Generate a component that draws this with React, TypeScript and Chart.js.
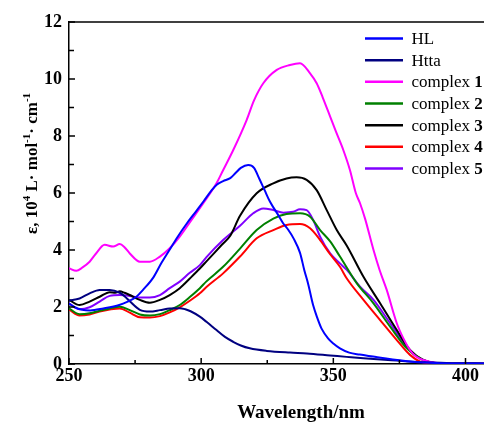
import React, { useEffect, useRef } from "react";
import { Chart, registerables } from "chart.js";

Chart.register(...registerables);

const SERIES_LABELS = ["HL", "Htta", "complex 1", "complex 2", "complex 3", "complex 4", "complex 5"];
const SERIES_COLORS = ["#0000FF", "#000080", "#FF00FF", "#008000", "#000000", "#FF0000", "#8000FF"];

const HL_X = [250, 252, 255, 258, 263, 269, 272, 275.5, 278, 282, 285, 288, 291, 294.5, 298, 301, 304, 306, 308.3, 311, 313, 315, 317.8, 320, 322, 324, 326, 329, 331, 333, 335, 337.4, 339, 340.5, 342.4, 344, 345.5, 348, 350, 352.5, 356, 360, 365, 370, 375, 380, 385, 390, 400, 407];
const HL_Y = [2.12, 2.0, 1.9, 1.88, 1.95, 2.07, 2.18, 2.36, 2.6, 3.05, 3.55, 4.0, 4.45, 4.92, 5.35, 5.72, 6.1, 6.3, 6.42, 6.52, 6.7, 6.88, 6.98, 6.88, 6.5, 6.1, 5.7, 5.25, 4.94, 4.7, 4.4, 3.9, 3.3, 2.8, 2.05, 1.6, 1.25, 0.9, 0.72, 0.55, 0.4, 0.33, 0.26, 0.19, 0.13, 0.08, 0.05, 0.03, 0.02, 0.02];

const HTTA_X = [250, 254, 257.8, 261.6, 265.4, 269.2, 271, 273, 276.8, 280.6, 284.4, 288.1, 291.9, 294, 296, 299.5, 302, 305.8, 309, 312.1, 315, 318.4, 324.8, 333.6, 340, 348.8, 355, 361.4, 368, 374, 380, 386.7, 395, 407];
const HTTA_Y = [2.22, 2.3, 2.48, 2.6, 2.6, 2.5, 2.38, 2.2, 1.9, 1.84, 1.89, 1.95, 1.96, 1.92, 1.85, 1.66, 1.48, 1.19, 0.95, 0.78, 0.65, 0.55, 0.46, 0.4, 0.37, 0.3, 0.25, 0.2, 0.16, 0.12, 0.08, 0.05, 0.03, 0.02];

const C1_X = [250, 252.8, 255, 257.8, 260, 263.5, 266.7, 269.2, 271, 273, 276.8, 280.6, 284.4, 288.1, 291.9, 295.7, 300.8, 305.8, 308.3, 312.1, 317.2, 320, 323.5, 328.6, 333.6, 337.4, 341.2, 343.7, 346, 348.8, 351, 353.8, 356.3, 358.5, 360.1, 362, 365.2, 367.5, 370.2, 374, 376.5, 379, 381, 384, 390, 400, 407];
const C1_Y = [3.36, 3.27, 3.38, 3.59, 3.85, 4.18, 4.12, 4.21, 4.1, 3.88, 3.59, 3.59, 3.77, 4.06, 4.47, 4.97, 5.64, 6.34, 6.8, 7.5, 8.56, 9.25, 9.85, 10.32, 10.49, 10.55, 10.2, 9.85, 9.35, 8.68, 8.15, 7.5, 6.8, 6.0, 5.64, 5.1, 4.0, 3.3, 2.6, 1.43, 0.9, 0.49, 0.28, 0.14, 0.03, 0.01, 0.01];

const C2_X = [250, 254, 257.8, 261.6, 265.4, 269.2, 273, 276.8, 280.6, 284.4, 288.1, 291.9, 295.7, 299.5, 302, 308.3, 314.7, 321, 327.3, 332.3, 337.4, 341.2, 345, 348.8, 352.5, 358.9, 365.2, 371.5, 377.8, 382.8, 389, 400, 407];
const C2_Y = [1.95, 1.75, 1.78, 1.87, 1.95, 2.01, 1.89, 1.74, 1.7, 1.75, 1.89, 2.07, 2.35, 2.66, 2.9, 3.41, 4.05, 4.7, 5.1, 5.26, 5.29, 5.17, 4.7, 4.3, 3.77, 2.83, 2.13, 1.31, 0.55, 0.2, 0.03, 0.01, 0.01];

const C3_X = [250, 254, 257.8, 261.6, 265.4, 267.5, 269.2, 271, 273, 276.8, 280.6, 284.4, 288.1, 291.9, 295.7, 299.5, 302, 305, 308, 311, 314.7, 321, 327.3, 332.3, 336.1, 339.9, 343.7, 347.5, 351.3, 355.1, 361.4, 367.7, 374, 379, 384, 389, 400, 407];
const C3_Y = [2.25, 2.07, 2.19, 2.36, 2.52, 2.5, 2.55, 2.5, 2.42, 2.25, 2.15, 2.25, 2.42, 2.66, 3.0, 3.35, 3.6, 3.9, 4.2, 4.5, 5.2, 5.99, 6.34, 6.51, 6.55, 6.46, 6.1, 5.4, 4.7, 4.15, 3.06, 2.13, 1.19, 0.49, 0.14, 0.03, 0.01, 0.01];

const C4_X = [250, 254, 257.8, 261.6, 265.4, 269.2, 273, 276.8, 280.6, 284.4, 288.1, 291.9, 295.7, 299.5, 302, 308.3, 314.7, 321, 327.3, 332.3, 337.4, 341.2, 345, 348.8, 352.5, 355.1, 361.4, 367.7, 374, 379, 384, 390, 400, 407];
const C4_Y = [1.91, 1.7, 1.74, 1.84, 1.91, 1.95, 1.8, 1.64, 1.63, 1.68, 1.81, 1.99, 2.22, 2.48, 2.7, 3.18, 3.77, 4.41, 4.7, 4.88, 4.91, 4.76, 4.35, 3.85, 3.41, 3.0, 2.25, 1.54, 0.84, 0.32, 0.05, 0.02, 0.01, 0.01];

const C5_X = [250, 254, 257.8, 261.6, 265.4, 269.2, 273, 276.8, 280.6, 284.4, 288.1, 291.9, 295.7, 299.5, 302, 308.3, 314.7, 319.7, 323.5, 327.3, 331.1, 334.8, 337.4, 339.9, 342.4, 345, 348.8, 352.5, 355.1, 360.1, 365.2, 371.5, 377.8, 382.8, 389, 400, 407];
const C5_Y = [2.13, 1.92, 1.99, 2.19, 2.39, 2.42, 2.39, 2.33, 2.33, 2.42, 2.66, 2.89, 3.2, 3.47, 3.75, 4.35, 4.85, 5.29, 5.46, 5.4, 5.31, 5.34, 5.43, 5.4, 5.05, 4.47, 3.88, 3.53, 3.3, 2.71, 2.25, 1.43, 0.61, 0.2, 0.03, 0.01, 0.01];

const SERIES_X = [HL_X, HTTA_X, C1_X, C2_X, C3_X, C4_X, C5_X];
const SERIES_Y = [HL_Y, HTTA_Y, C1_Y, C2_Y, C3_Y, C4_Y, C5_Y];

const X_MIN = 250;
const X_MAX = 407;
const X_TICKS = [250, 275, 300, 325, 350, 375, 400];
const Y_MIN = 0;
const Y_MAX = 12;
const Y_TICKS = [0, 1, 2, 3, 4, 5, 6, 7, 8, 9, 10, 11, 12];

const X_TITLE = "Wavelength/nm";
const FONT = '"Liberation Serif", "Times New Roman", serif';

const decorPlugin = {
  id: "decor",
  afterDraw(chart: any) {
    const { ctx, chartArea, scales } = chart;
    const { left, right, top, bottom } = chartArea;
    const xs = scales.x;
    const ys = scales.y;
    ctx.save();
    ctx.strokeStyle = "#000";
    ctx.lineWidth = 1.5;
    ctx.beginPath();
    ctx.moveTo(left - 0.75, top);
    ctx.lineTo(right, top);
    ctx.stroke();
    ctx.beginPath();
    for (const v of X_TICKS) {
      const px = xs.getPixelForValue(v);
      const len = v % 50 === 0 ? 6 : 4;
      ctx.moveTo(px, bottom);
      ctx.lineTo(px, bottom - len);
    }
    for (const v of Y_TICKS) {
      const py = ys.getPixelForValue(v);
      const len = v % 2 === 0 ? 6 : 5;
      ctx.moveTo(left, py);
      ctx.lineTo(left + len, py);
    }
    ctx.stroke();

    // x title
    ctx.fillStyle = "#000";
    ctx.font = `bold 19px ${FONT}`;
    ctx.textAlign = "center";
    ctx.textBaseline = "alphabetic";
    ctx.fillText(X_TITLE, 301, 418);

    // y title with superscripts
    const parts: [string, boolean][] = [
      ["\u03b5, 10", false],
      ["4", true],
      [" L\u00b7 mol", false],
      ["-1", true],
      ["\u00b7 cm", false],
      ["-1", true],
    ];
    const mainFont = `bold 17px ${FONT}`;
    const supFont = `bold 11px ${FONT}`;
    let total = 0;
    for (const [t, sup] of parts) {
      ctx.font = sup ? supFont : mainFont;
      total += ctx.measureText(t).width;
    }
    ctx.save();
    ctx.translate(37, 163.5 + total / 2);
    ctx.rotate(-Math.PI / 2);
    ctx.textAlign = "left";
    let cx = 0;
    for (const [t, sup] of parts) {
      ctx.font = sup ? supFont : mainFont;
      ctx.fillText(t, cx, sup ? -7 : 0);
      cx += ctx.measureText(t).width;
    }
    ctx.restore();

    // legend
    chart.data.datasets.forEach((ds: any, i: number) => {
      const yRow = 38.5 + i * 21.67;
      ctx.strokeStyle = ds.borderColor;
      ctx.lineWidth = 2.5;
      ctx.beginPath();
      ctx.moveTo(365, yRow);
      ctx.lineTo(403, yRow);
      ctx.stroke();
      ctx.fillStyle = "#000";
      ctx.textAlign = "left";
      ctx.textBaseline = "middle";
      const m = /^(complex )(\d+)$/.exec(ds.label);
      if (m) {
        ctx.font = `17px ${FONT}`;
        ctx.fillText(m[1], 411.5, yRow + 1);
        const w = ctx.measureText(m[1]).width;
        ctx.font = `bold 17px ${FONT}`;
        ctx.fillText(m[2], 411.5 + w, yRow + 1);
      } else {
        ctx.font = `17px ${FONT}`;
        ctx.fillText(ds.label, 411.5, yRow + 1);
      }
    });
    ctx.restore();
  },
};

export default function App() {
  const canvasRef = useRef<HTMLCanvasElement | null>(null);

  useEffect(() => {
    const canvas = canvasRef.current;
    if (!canvas) return;
    const datasets = SERIES_LABELS.map((label, i) => ({
      label,
      data: SERIES_X[i].map((x, j) => ({ x, y: SERIES_Y[i][j] })),
      borderColor: SERIES_COLORS[i],
      backgroundColor: SERIES_COLORS[i],
      borderWidth: 2,
      pointRadius: 0,
      cubicInterpolationMode: "monotone" as const,
      fill: false,
    }));
    const tickFont = { family: FONT, size: 18, weight: "bold" as const };
    const chart = new Chart(canvas, {
      type: "line",
      data: { datasets },
      options: {
        responsive: false,
        animation: false,
        devicePixelRatio: 1,
        layout: { padding: { top: 22, right: 0, left: 0, bottom: 0 } },
        plugins: { legend: { display: false }, tooltip: { enabled: false } },
        scales: {
          x: {
            type: "linear",
            min: X_MIN,
            max: X_MAX,
            grid: { display: false, drawTicks: false },
            border: { display: true, color: "#000", width: 1.5 },
            ticks: {
              stepSize: 25,
              includeBounds: false,
              autoSkip: false,
              maxRotation: 0,
              padding: 2,
              color: "#000",
              font: tickFont,
              callback: (v: any) => (Number(v) % 50 === 0 ? String(v) : ""),
            },
            afterBuildTicks: (s: any) => {
              s.ticks = s.ticks.filter((t: any) => X_TICKS.includes(t.value));
            },
            afterFit: (s: any) => {
              s.height = 60;
            },
          },
          y: {
            type: "linear",
            min: Y_MIN,
            max: Y_MAX,
            grid: { display: false, drawTicks: false },
            border: { display: true, color: "#000", width: 1.5 },
            ticks: {
              stepSize: 1,
              autoSkip: false,
              padding: 7,
              color: "#000",
              font: tickFont,
              callback: (v: any) => (Number(v) % 2 === 0 ? String(v) : ""),
            },
            afterFit: (s: any) => {
              s.width = 69;
            },
          },
        },
      },
      plugins: [decorPlugin],
    });
    return () => chart.destroy();
  }, []);

  return (
    <div style={{ position: "fixed", left: 0, top: 0, width: 484, height: 424, background: "#fff" }}>
      <canvas ref={canvasRef} width={484} height={424} style={{ display: "block" }} />
    </div>
  );
}
